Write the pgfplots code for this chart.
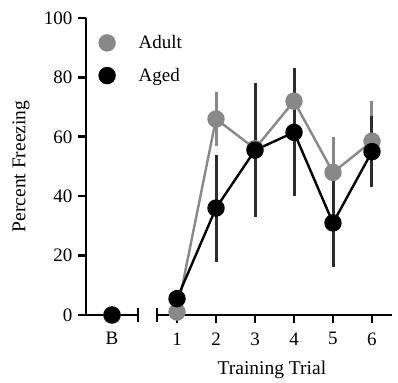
\documentclass[border=0pt]{standalone}
\usepackage{pgfplots}
\pgfplotsset{compat=1.18}
\usepackage{fontspec}
\setmainfont{Liberation Serif}
\definecolor{adultgray}{RGB}{136,136,136}
\definecolor{agedbar}{RGB}{45,45,45}
\begin{document}
\begin{tikzpicture}
\useasboundingbox (0,0) rectangle (398pt,382pt);
\pgfplotsset{
 common/.style={
  scale only axis, height=297pt, ymin=0, ymax=100,
  axis line style={line width=2.6pt, -},
  tick style={line width=2.6pt, black},
  major tick length=8pt, tick align=outside,
  tick label style={font=\fontsize{19}{22}\selectfont},
  xticklabel style={yshift=-6pt},
  yticklabel style={xshift=-2pt},
  /pgf/number format/assume math mode=true,
  clip=false,
  every axis plot/.append style={line width=2.4pt},
 }}
\begin{axis}[common, at={(86pt,67pt)}, anchor=south west, width=52pt,
 xmin=-0.667, xmax=0.667, axis x line*=bottom, axis y line*=left,
 xtick={0}, xticklabels={B}, ytick={0,20,...,100},
 extra x ticks={0.667}, extra x tick labels={}, extra x tick style={tick align=center, major tick length=13pt},
 ylabel={Percent Freezing},
 every axis y label/.style={at={(axis description cs:-1.25,0.5)}, rotate=90, anchor=center, font=\fontsize{19.5}{22}\selectfont},
 legend style={draw=none, fill=none, at={(axis description cs:0.2,0.955)}, anchor=north west,
   font=\fontsize{19}{22}\selectfont, row sep=14pt, column sep=22pt},
 legend image code/.code={\draw[mark repeat=2,mark phase=2,#1] plot coordinates {(0pt,0pt) (14pt,0pt) (28pt,0pt)};},
 legend cell align=left]
\addplot[adultgray, only marks, mark=*, mark size=7.5pt] coordinates {(0,0)};
\addlegendentry{Adult}
\addplot[black, only marks, mark=*, mark size=7.5pt] coordinates {(0,0)};
\addlegendentry{Aged}
\end{axis}
\begin{axis}[common, at={(157pt,67pt)}, anchor=south west, width=235pt,
 xmin=0.487, xmax=6.513, axis x line*=bottom, axis y line=none,
 xtick={1,2,3,4,5,6},
 extra x ticks={0.487}, extra x tick labels={}, extra x tick style={tick align=center, major tick length=13pt},
 xlabel={Training Trial},
 every axis x label/.style={at={(axis description cs:0.489,-0.185)}, anchor=center, font=\fontsize{19.5}{22}\selectfont}]
\addplot[adultgray, mark=*, mark size=7.5pt,
 error bars/.cd, y dir=both, y explicit, error mark=none, error bar style={line width=3pt, adultgray}]
 coordinates {(1,1) +- (0,1) (2,66) +- (0,9) (3,56) +- (0,10) (4,72) +- (0,11) (5,48) +- (0,12) (6,58.5) +- (0,13.5)};
\addplot[black, mark=*, mark size=7.5pt,
 error bars/.cd, y dir=both, y explicit, error mark=none, error bar style={line width=3pt, agedbar}]
 coordinates {(1,5.5) +- (0,2) (2,36) +- (0,18) (3,55.5) +- (0,22.5) (4,61.5) +- (0,21.5) (5,31) +- (0,15) (6,55) +- (0,12)};
\end{axis}
\end{tikzpicture}
\end{document}
